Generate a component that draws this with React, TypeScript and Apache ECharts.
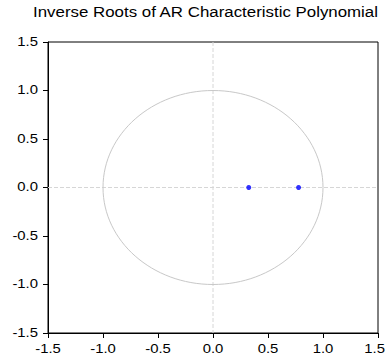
import React, { useEffect, useRef } from "react";
import * as echarts from "echarts";

const titleText = "Inverse Roots of AR Characteristic Polynomial";
const axisMin = -1.5;
const axisMax = 1.5;
const axisStep = 0.5;
const tickValues = [-1.5, -1.0, -0.5, 0.0, 0.5, 1.0, 1.5];
const tickLabels = ["-1.5", "-1.0", "-0.5", "0.0", "0.5", "1.0", "1.5"];
// inverse roots (real, imaginary)
const rootsReal = [0.325, 0.778];
const rootsImag = [0, 0];
const unitRadius = 1;
const crossX = 0;
const crossY = 0;

export default function App() {
  const ref = useRef<HTMLDivElement>(null);
  useEffect(() => {
    document.body.style.margin = "0";
    const chart = echarts.init(ref.current!, null, { renderer: "svg" });
    const font = "Arial, 'Liberation Sans', sans-serif";
    const stretch = 1.24;
    const chartWidth = 386;
    const axisCommon = {
      type: "value" as const,
      min: axisMin,
      max: axisMax,
      interval: axisStep,
      axisLine: { show: true, onZero: false, lineStyle: { color: "#000", width: 1 } },
      axisTick: { show: true, inside: false, length: 5, lineStyle: { color: "#000" } },
      splitLine: { show: false },
      axisLabel: { show: false },
    };
    chart.setOption({
      animation: false,
      grid: {
        left: 48,
        top: 42,
        width: 330,
        height: 291,
        show: true,
        borderColor: "#000",
        borderWidth: 1,
        backgroundColor: "#fff",
      },
      xAxis: { ...axisCommon },
      yAxis: { ...axisCommon },
      series: [
        {
          type: "custom",
          silent: true,
          data: [[crossX, crossY, unitRadius]],
          z: 1,
          renderItem: (params: any, api: any) => {
            const c = api.coord([api.value(0), api.value(1)]);
            const r = api.value(2);
            const px = api.coord([api.value(0) + r, api.value(1)]);
            const py = api.coord([api.value(0), api.value(1) + r]);
            const cs = params.coordSys;
            return {
              type: "group",
              children: [
                {
                  type: "line",
                  shape: { x1: c[0], y1: cs.y, x2: c[0], y2: cs.y + cs.height },
                  style: { stroke: "#d6d6d6", lineWidth: 1, lineDash: [4, 2] },
                },
                {
                  type: "line",
                  shape: { x1: cs.x, y1: c[1], x2: cs.x + cs.width, y2: c[1] },
                  style: { stroke: "#d6d6d6", lineWidth: 1, lineDash: [4, 2] },
                },
                {
                  type: "ellipse",
                  shape: { cx: c[0], cy: c[1], rx: Math.abs(px[0] - c[0]), ry: Math.abs(c[1] - py[1]) },
                  style: { stroke: "#c8c8c8", fill: null, lineWidth: 1 },
                },
              ],
            };
          },
        },
        {
          type: "scatter",
          z: 3,
          symbol: "circle",
          symbolSize: 5,
          itemStyle: { color: "#0000ff" },
          data: rootsReal.map((x, i) => [x, rootsImag[i]]),
        },
      ],
    });

    const xAt = (v: number) => chart.convertToPixel({ xAxisIndex: 0 }, v) as number;
    const yAt = (v: number) => chart.convertToPixel({ yAxisIndex: 0 }, v) as number;
    const plotLeft = xAt(axisMin);
    const plotBottom = yAt(axisMin);
    const labelStyle = { fontSize: 12, fill: "#000", fontFamily: font };
    const graphics: any[] = [
      {
        type: "text",
        x: 33,
        y: 5,
        scaleX: 1.205,
        style: { text: titleText, fontSize: 14, fill: "#000", fontFamily: font, align: "left", verticalAlign: "top" },
      },
    ];
    tickValues.forEach((v, i) => {
      const last = i === tickValues.length - 1;
      graphics.push({
        type: "text",
        x: last ? chartWidth - 1 : xAt(v),
        y: plotBottom + 16,
        scaleX: stretch,
        style: { ...labelStyle, text: tickLabels[i], align: last ? "right" : "center", verticalAlign: "middle" },
      });
      graphics.push({
        type: "text",
        x: plotLeft - 10,
        y: yAt(v),
        scaleX: stretch,
        style: { ...labelStyle, text: tickLabels[i], align: "right", verticalAlign: "middle" },
      });
    });
    chart.setOption({ graphic: graphics });
    return () => chart.dispose();
  }, []);
  return <div ref={ref} style={{ width: 386, height: 360 }} />;
}
